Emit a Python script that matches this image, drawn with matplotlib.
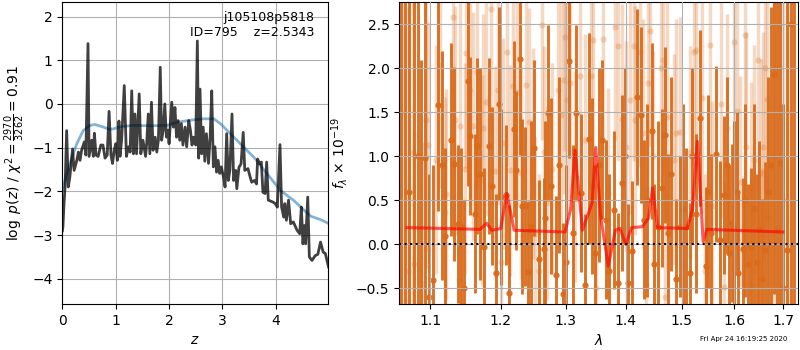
import numpy as np
import matplotlib
matplotlib.use('Agg')
import matplotlib.pyplot as plt
from matplotlib.ticker import FixedLocator, FormatStrFormatter, NullLocator

# --- left panel: log p(z) and prior ---
z_grid = [0.00, 0.01, 0.03, 0.05, 0.08, 0.11, 0.14, 0.19, 0.22, 0.27, 0.30, 0.33,
          0.36, 0.41, 0.44, 0.48, 0.50, 0.55, 0.58, 0.60, 0.63, 0.67, 0.72, 0.76,
          0.80, 0.84, 0.875, 0.91, 0.94, 0.97, 1.00, 1.03, 1.06, 1.08, 1.11, 1.16,
          1.20, 1.24, 1.27, 1.30, 1.33, 1.36, 1.39, 1.44, 1.47, 1.51, 1.56, 1.58,
          1.61, 1.64, 1.67, 1.70, 1.74, 1.77, 1.80, 1.835, 1.86, 1.89, 1.92, 1.95,
          1.98, 2.00, 2.05, 2.08, 2.11, 2.14, 2.17, 2.20, 2.23, 2.26, 2.30, 2.33,
          2.37, 2.40, 2.43, 2.46, 2.50, 2.53, 2.555, 2.58, 2.61, 2.64, 2.67, 2.70,
          2.74, 2.77, 2.80, 2.83, 2.86, 2.89, 2.92, 2.95, 2.98, 3.02, 3.05, 3.08,
          3.11, 3.14, 3.18, 3.21, 3.25, 3.27, 3.31, 3.35, 3.39, 3.42, 3.48, 3.52,
          3.55, 3.60, 3.64, 3.66, 3.70, 3.73, 3.76, 3.80, 3.83, 3.86, 3.94, 3.99,
          4.03, 4.08, 4.11, 4.15, 4.17, 4.20, 4.24, 4.28, 4.33, 4.37, 4.40, 4.45,
          4.48, 4.51, 4.54, 4.56, 4.60, 4.63, 4.68, 4.74, 4.79, 4.84, 4.89, 4.93,
          4.99]
log_pz = [-2.90, -2.81, -2.28, -1.90, -0.61, -1.90, -1.67, -1.03, -1.52, -1.29, -1.10, -1.29,
          -1.06, -0.87, -1.17, 1.38, -1.20, -0.83, -1.20, -0.67, -1.17, -1.20, -0.94, -0.94,
          -1.24, -1.17, -0.17, -1.17, -1.36, -1.06, -0.91, -1.29, -0.39, -1.20, -0.83, 0.42,
          -1.20, -0.98, -1.10, 0.30, -1.14, -0.23, -1.14, 0.23, -1.14, -0.83, -1.20, -0.91,
          -0.23, -1.14, 0.04, -1.06, -0.76, -1.10, -0.83, 0.84, -0.83, -0.60, 0.00, -0.76,
          -0.60, -0.91, 0.04, -0.53, -0.08, -0.76, -0.38, -0.83, -0.45, -0.94, -0.53, -0.98,
          -0.38, -0.60, -0.94, -0.76, -0.94, 1.44, -1.24, 0.34, -1.14, -0.53, -1.31, -0.68,
          -1.36, -0.76, 0.30, -1.44, -0.98, -1.56, -1.29, -1.59, -1.44, -1.67, -1.90, -0.68,
          -1.75, -1.52, -0.23, -1.75, -1.52, -1.94, -1.45, -1.37, -0.65, -1.52, -1.48, -1.67,
          -1.79, -1.75, -1.83, -1.26, -1.37, -1.33, -2.02, -2.05, -1.33, -2.20, -2.24, -2.28,
          -2.36, -0.93, -2.36, -2.59, -2.28, -2.66, -2.20, -2.74, -2.70, -2.81, -2.89, -2.97,
          -2.36, -3.20, -2.78, -3.20, -2.13, -3.50, -3.58, -3.47, -3.44, -3.16, -3.39, -3.42,
          -3.73]

z_prior = [0.00, 0.08, 0.18, 0.27, 0.39, 0.52, 0.61, 0.77, 0.88, 0.96, 1.08, 1.34,
           1.65, 1.96, 2.15, 2.40, 2.65, 2.84, 2.97, 3.15, 3.28, 3.40, 3.59, 3.84,
           4.09, 4.34, 4.53, 4.66, 4.85, 5.00]
log_prior = [-1.98, -1.60, -1.22, -0.91, -0.61, -0.49, -0.47, -0.53, -0.58, -0.57, -0.52, -0.49,
             -0.50, -0.49, -0.42, -0.37, -0.34, -0.34, -0.46, -0.68, -0.84, -0.99, -1.22, -1.60,
             -1.98, -2.21, -2.43, -2.57, -2.65, -2.74]

# --- right panel: 1D spectrum (dark = fitted pixels, light = other beam) ---
wave_a = [1.061, 1.067, 1.072, 1.078, 1.083, 1.088, 1.093, 1.098, 1.104, 1.111, 1.116, 1.120,
          1.129, 1.133, 1.138, 1.143, 1.147, 1.152, 1.155, 1.163, 1.166, 1.170, 1.175, 1.182,
          1.187, 1.193, 1.197, 1.201, 1.208, 1.212, 1.219, 1.222, 1.229, 1.232, 1.237, 1.241,
          1.246, 1.250, 1.258, 1.265, 1.268, 1.272, 1.277, 1.285, 1.290, 1.295, 1.300, 1.306,
          1.312, 1.317, 1.324, 1.331, 1.338, 1.343, 1.348, 1.354, 1.360, 1.366, 1.372, 1.380,
          1.386, 1.393, 1.398, 1.404, 1.411, 1.419, 1.426, 1.431, 1.437, 1.446, 1.450, 1.456,
          1.463, 1.469, 1.475, 1.481, 1.489, 1.497, 1.502, 1.508, 1.515, 1.519, 1.526, 1.534,
          1.545, 1.550, 1.555, 1.564, 1.573, 1.580, 1.585, 1.590, 1.596, 1.600, 1.605, 1.608,
          1.617, 1.622, 1.627, 1.633, 1.640, 1.645, 1.650, 1.656, 1.663, 1.668, 1.675, 1.680,
          1.687, 1.694, 1.700, 1.708, 1.716, 1.722]
flux_a = [3.50, -1.20, 0.60, 2.90, 1.00, -0.90, 0.98, -0.60, -0.40, 1.58, 0.90, 0.10,
          1.19, 0.91, 0.23, 0.20, -0.50, 1.86, 1.23, 0.35, 1.12, 0.80, -0.03, 1.12,
          0.66, -0.33, 1.60, 0.54, 0.56, -0.55, 1.31, 0.84, 2.11, 0.43, 0.43, -0.31,
          0.20, 1.10, -0.17, -0.05, 0.30, 1.49, 0.66, -0.35, 0.90, -0.56, -0.20, 2.08,
          0.13, 1.49, 0.58, -0.46, 1.20, 0.66, -0.10, 0.90, 1.19, 0.28, -0.30, 0.39,
          -0.44, 0.70, 1.00, -0.44, -0.08, 1.67, 1.47, 0.28, 0.50, 1.29, -0.22, 0.20,
          0.64, 1.24, 0.13, 0.80, -0.39, 0.20, 0.40, 0.20, -0.33, 1.00, 0.35, 1.44,
          -0.25, 0.60, 0.13, 1.03, 0.05, 0.56, 0.90, -0.10, 0.24, 0.20, 0.60, -0.33,
          -0.05, 0.50, -0.22, -0.03, 0.40, -0.20, 0.17, -0.39, -0.06, 0.60, 0.90, 1.94,
          0.16, 0.92, -0.50, -0.06, 2.50, -0.80]
err_a = [5.0, 4.0, 4.0, 4.0, 1.9, 3.0, 1.8, 1.4, 1.3, 1.2, 1.3, 1.0,
         1.1, 1.1, 0.9, 0.9, 1.0, 1.2, 0.9, 0.9, 1.0, 1.2, 0.9, 1.0,
         0.9, 0.9, 1.1, 1.0, 0.8, 1.0, 1.0, 0.9, 1.1, 1.0, 0.9, 0.8,
         1.2, 1.0, 0.9, 0.8, 1.1, 1.0, 1.0, 0.9, 1.0, 0.8, 1.1, 1.1,
         1.0, 1.0, 0.9, 0.8, 1.2, 1.0, 1.0, 1.1, 0.9, 0.9, 1.1, 0.9,
         0.8, 1.0, 1.0, 0.9, 0.8, 1.0, 1.0, 0.9, 1.1, 1.0, 0.9, 1.2,
         0.9, 1.0, 0.9, 1.1, 0.9, 0.8, 1.2, 0.9, 0.8, 1.0, 0.9, 1.0,
         0.9, 1.1, 0.9, 1.0, 0.9, 0.9, 1.0, 1.0, 0.9, 1.2, 0.9, 0.9,
         0.8, 1.1, 0.9, 0.9, 1.2, 1.0, 1.0, 0.9, 1.0, 1.3, 1.8, 2.5,
         3.0, 3.5, 2.1, 4.0, 5.0, 5.0]

wave_b = [1.064, 1.070, 1.077, 1.078, 1.089, 1.095, 1.097, 1.108, 1.113, 1.120, 1.122, 1.131,
          1.134, 1.140, 1.141, 1.148, 1.150, 1.155, 1.160, 1.166, 1.172, 1.174, 1.179, 1.186,
          1.191, 1.196, 1.200, 1.204, 1.209, 1.214, 1.218, 1.224, 1.231, 1.238, 1.242, 1.248,
          1.252, 1.258, 1.262, 1.266, 1.270, 1.278, 1.287, 1.292, 1.298, 1.299, 1.302, 1.307,
          1.315, 1.323, 1.331, 1.341, 1.344, 1.350, 1.362, 1.369, 1.382, 1.386, 1.394, 1.400,
          1.408, 1.415, 1.416, 1.425, 1.430, 1.436, 1.439, 1.443, 1.448, 1.462, 1.465, 1.470,
          1.473, 1.485, 1.490, 1.497, 1.503, 1.516, 1.522, 1.527, 1.537, 1.544, 1.553, 1.556,
          1.575, 1.580, 1.586, 1.600, 1.605, 1.612, 1.621, 1.624, 1.633, 1.634, 1.639, 1.648,
          1.654, 1.655, 1.657, 1.663, 1.666, 1.669, 1.680, 1.690, 1.700, 1.710]
flux_b = [1.50, -0.30, 1.05, -0.22, -0.44, 1.41, 1.13, 0.96, 2.04, 0.37, 0.57, 2.58,
          1.41, -0.40, 1.34, 0.86, 2.17, 1.75, 1.34, 1.96, 0.73, 1.32, 1.62, 2.68,
          0.83, 1.75, -0.20, 1.15, 2.19, 0.84, 1.80, 1.73, 0.81, 1.81, 1.39, 1.03,
          0.12, -0.30, 2.49, 1.05, 0.47, 0.86, 1.75, 1.47, 1.87, 2.36, 1.64, 1.83,
          0.77, 1.91, 1.19, 1.91, 2.32, -0.50, 2.33, 0.58, 2.47, 2.25, 1.43, 1.11,
          1.64, 2.25, 1.41, 2.19, 1.26, -0.45, 1.83, 2.42, 1.00, 2.00, 2.09, -0.60,
          1.45, 0.96, 1.26, 1.28, -0.22, 1.05, 2.19, 2.21, 1.66, -0.30, 2.27, 0.43,
          1.60, -0.48, 1.32, 2.30, 1.51, 0.71, 2.38, 1.11, 0.64, -0.46, 0.96, 2.09,
          0.81, -0.33, 1.11, 2.00, 1.65, 0.31, 1.00, 2.00, 0.50, 1.50]
err_b = [3.0, 3.0, 2.0, 1.5, 1.6, 1.5, 1.4, 1.3, 1.4, 1.3, 1.2, 1.4,
         1.3, 1.1, 1.4, 1.2, 1.3, 1.3, 1.3, 1.3, 1.2, 1.3, 1.3, 1.4,
         1.2, 1.3, 1.1, 1.2, 1.3, 1.2, 1.3, 1.3, 1.2, 1.3, 1.3, 1.2,
         1.1, 1.1, 1.3, 1.2, 1.1, 1.2, 1.3, 1.3, 1.3, 1.3, 1.3, 1.3,
         1.2, 1.3, 1.2, 1.3, 1.3, 1.2, 1.3, 1.2, 1.3, 1.3, 1.3, 1.2,
         1.3, 1.3, 1.3, 1.3, 1.3, 1.1, 1.3, 1.3, 1.2, 1.3, 1.3, 1.2,
         1.3, 1.2, 1.3, 1.3, 1.1, 1.2, 1.3, 1.3, 1.3, 1.1, 1.3, 1.2,
         1.3, 1.2, 1.3, 1.3, 1.3, 1.2, 1.3, 1.3, 1.2, 1.2, 1.3, 1.3,
         1.3, 1.2, 1.3, 1.4, 1.4, 1.3, 3.0, 3.5, 4.0, 4.0]

wave_model = [1.069, 1.170, 1.179, 1.187, 1.200, 1.209, 1.220, 1.299, 1.308, 1.315, 1.327, 1.343,
              1.349, 1.357, 1.370, 1.382, 1.390, 1.400, 1.410, 1.429, 1.440, 1.447, 1.456, 1.510,
              1.520, 1.529, 1.540, 1.547, 1.699]
flux_model = [0.19, 0.17, 0.24, 0.16, 0.18, 0.58, 0.16, 0.14, 0.40, 1.07, 0.16, 0.47,
              1.10, 0.33, -0.25, 0.16, 0.18, 0.00, 0.19, 0.20, 0.30, 0.64, 0.19, 0.18,
              0.40, 1.17, 0.03, 0.17, 0.14]

yticks_spec = [-0.5, 0.0, 0.5, 1.0, 1.5, 2.0, 2.5]
xticks_spec = [1.1, 1.2, 1.3, 1.4, 1.5, 1.6, 1.7]

target = 'j105108p5818'
obj_id = 795
z_best = 2.5343
chi2, nu = 2970, 3262
stamp = 'Fri Apr 24 16:19:25 2020'

orange = '#d96b1b'

fig = plt.figure(figsize=(8, 3.5), dpi=100)

# p(z)
ax = fig.add_axes([0.078, 0.131, 0.332, 0.863])
ax.plot(z_prior, log_prior, color='tab:blue', alpha=0.55, lw=2)
ax.plot(z_grid, log_pz, color='k', alpha=0.75, lw=2)
ax.set_xlim(0, 4.98)
ax.set_ylim(-4.58, 2.33)
ax.set_xticks([0, 1, 2, 3, 4])
ax.set_yticks([-4, -3, -2, -1, 0, 1, 2])
ax.grid()
ax.set_xlabel(r'$z$')
ax.set_ylabel(r'$\log\ p(z)$ / $\chi^2=\frac{%d}{%d}=%.2f$' % (chi2, nu, chi2 / nu))
ax.text(0.95, 0.97, '%s\nID=%d    z=%.4f' % (target, obj_id, z_best),
        ha='right', va='top', transform=ax.transAxes, fontsize=9)

# spectrum
ax2 = fig.add_axes([0.499, 0.131, 0.4985, 0.863])
ax2.set_axisbelow(False)
ax2.errorbar(wave_b, flux_b, yerr=err_b, color=orange, alpha=0.25, marker='o',
             ms=4.5, mec='none', linestyle='None', elinewidth=2.5, zorder=1)
ax2.errorbar(wave_a, flux_a, yerr=err_a, color=orange, alpha=0.95, marker='o',
             ms=4.5, mec='none', linestyle='None', elinewidth=2.1, zorder=1.5)
ax2.plot(wave_model, flux_model, color='r', alpha=0.65, lw=2.2, zorder=3)
ax2.axhline(0, color='k', linestyle=':', lw=1.5, zorder=4)
ax2.set_xscale('log')
ax2.xaxis.set_major_locator(FixedLocator(xticks_spec))
ax2.xaxis.set_major_formatter(FormatStrFormatter('%.1f'))
ax2.xaxis.set_minor_locator(NullLocator())
ax2.set_xlim(1.0588, 1.731)
ax2.set_ylim(-0.68, 2.753)
ax2.set_yticks(yticks_spec)
ax2.grid()
ax2.set_xlabel(r'$\lambda$')
ax2.set_ylabel(r'$f_\lambda\,\times\,10^{-19}$')

fig.text(0.984, 0.031, stamp, ha='right', va='center', fontsize=5)

fig.savefig('out.png', dpi=100)
